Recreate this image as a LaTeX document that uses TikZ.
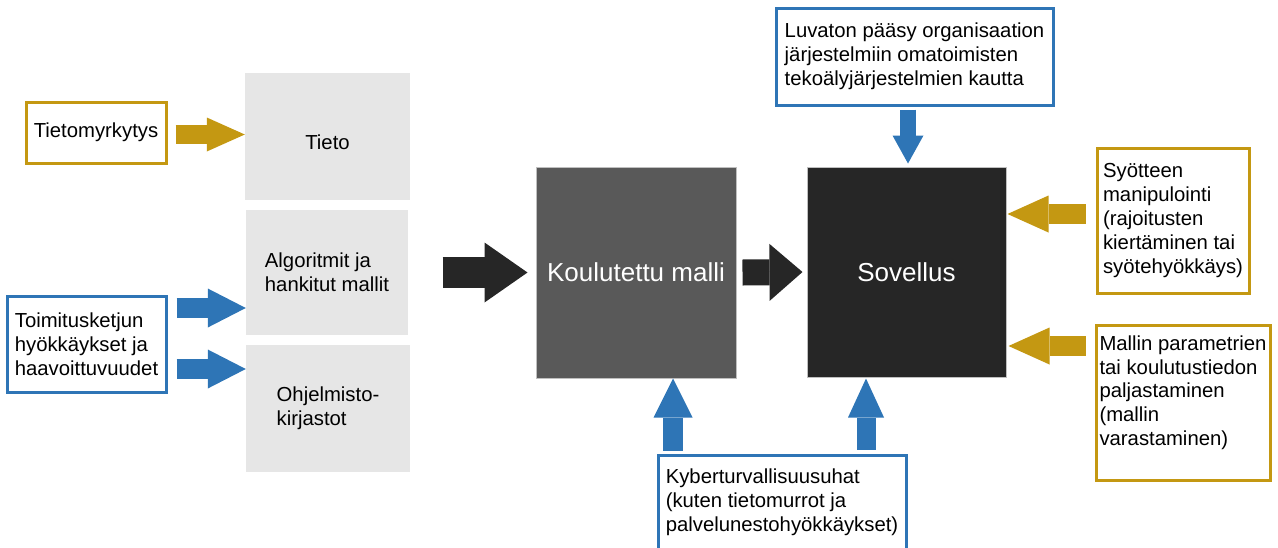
\documentclass[tikz,border=0pt]{standalone}
\usepackage{fontspec}
\setmainfont{Liberation Sans}
\usetikzlibrary{arrows.meta,calc}
\definecolor{gold}{RGB}{196,152,18}
\definecolor{tblue}{RGB}{46,117,182}
\definecolor{lgray}{RGB}{230,230,230}
\definecolor{mgray}{RGB}{89,89,89}
\definecolor{dgray}{RGB}{38,38,38}
\begin{document}
\begin{tikzpicture}[x=1pt,y=-1pt,
  txt/.style={font=\fontsize{20.3}{23.8}\selectfont, align=left, text=black},
  goldbox/.style={txt, draw=gold, line width=3pt, fill=white, inner sep=0pt},
  bluebox/.style={txt, draw=tblue, line width=3pt, fill=white, inner sep=0pt},
  graybox/.style={txt, fill=lgray, inner sep=0pt},
  bigbox/.style={font=\fontsize{26}{30}\selectfont, text=white, draw=black!25, line width=1pt, inner sep=0pt},
  fat/.style n args={4}{draw=#1, line width=#2, -{Triangle[length=#4, width=#3, line width=0pt]}},
]
\useasboundingbox (0,0) rectangle (1278,547);

% left column
\node[goldbox, minimum width=140pt, minimum height=61pt] (tm) at (96,132.5) {Tietomyrkytys};
\node[graybox, minimum width=165pt, minimum height=127pt, text height=25pt, text depth=0pt] (tieto) at (327.5,136.5) {Tieto};
\node[graybox, minimum width=162pt, minimum height=125pt] (algo) at (327,272.5) {Algoritmit ja\\hankitut mallit};
\node[graybox, minimum width=164pt, minimum height=127pt] (ohj) at (328,408.5) {Ohjelmisto-\\kirjastot};
\node[bluebox, minimum width=159pt, minimum height=96pt] (toim) at (86.5,344) {Toimitusketjun\\hyökkäykset ja\\haavoittuvuudet};

% centre
\node[bigbox, fill=mgray, minimum width=200pt, minimum height=211pt] (kou) at (636,272.5) {Koulutettu malli};
\node[bigbox, fill=dgray, minimum width=199pt, minimum height=210pt] (sov) at (906.5,272) {Sovellus};

% right / top / bottom
\node[bluebox, minimum width=277pt, minimum height=97pt] (luv) at (914.5,56.5) {Luvaton pääsy organisaation\\järjestelmiin omatoimisten\\tekoälyjärjestelmien kautta};
\node[goldbox, minimum width=152pt, minimum height=145pt] (syo) at (1173,220.5) {Syötteen\\manipulointi\\(rajoitusten\\kiertäminen tai\\syötehyökkäys)};
\node[goldbox, minimum width=174pt, minimum height=155pt] (mal) at (1183,402.5) {Mallin parametrien\\tai koulutustiedon\\paljastaminen\\(mallin\\varastaminen)\\ \mbox{}};
\node[bluebox, minimum width=248pt, minimum height=94pt] (kyb) at (782,502) {Kyberturvallisuusuhat\\(kuten tietomurrot ja\\palvelunestohyökkäykset)};

% connectors
\coordinate (a1) at ($(tm.east)+(8,2)$);
\draw[fat={gold}{19pt}{34pt}{38pt}] (a1) -- (a1 -| tieto.west);
\coordinate (a2) at ($(toim.east)+(9,-36)$);
\draw[fat={tblue}{20pt}{39pt}{38pt}] (a2) -- (a2 -| algo.west);
\coordinate (a3) at ($(toim.east)+(9,25)$);
\draw[fat={tblue}{20pt}{39pt}{38pt}] (a3) -- (a3 -| ohj.west);
\draw[fat={dgray}{31pt}{60pt}{43pt}] ($(kou.west)+(-93,0)$) -- ($(kou.west)+(-8,0)$);
\draw[fat={dgray}{26pt}{57pt}{33pt}] ($(kou.east)+(6,0)$) -- ($(sov.west)+(-4,0)$);
\draw[fat={tblue}{16pt}{31pt}{28pt}] ($(luv.south)+(-6.5,3)$) -- ($(sov.north)+(1.5,-3)$);
\draw[fat={gold}{20pt}{37pt}{41pt}] ($(syo.west)+(-10,-6.5)$) -- ($(sov.east)+(1,-58)$);
\draw[fat={gold}{20pt}{37pt}{41pt}] ($(mal.west)+(-9,-56.5)$) -- ($(sov.east)+(2,74)$);
\draw[fat={tblue}{20pt}{39pt}{39pt}] ($(kyb.north)+(-109,-3)$) -- ($(kou.south)+(37,0)$);
\draw[fat={tblue}{19pt}{36pt}{39pt}] ($(kyb.north)+(84,-4)$) -- ($(sov.south)+(-40.5,1)$);
\end{tikzpicture}
\end{document}
